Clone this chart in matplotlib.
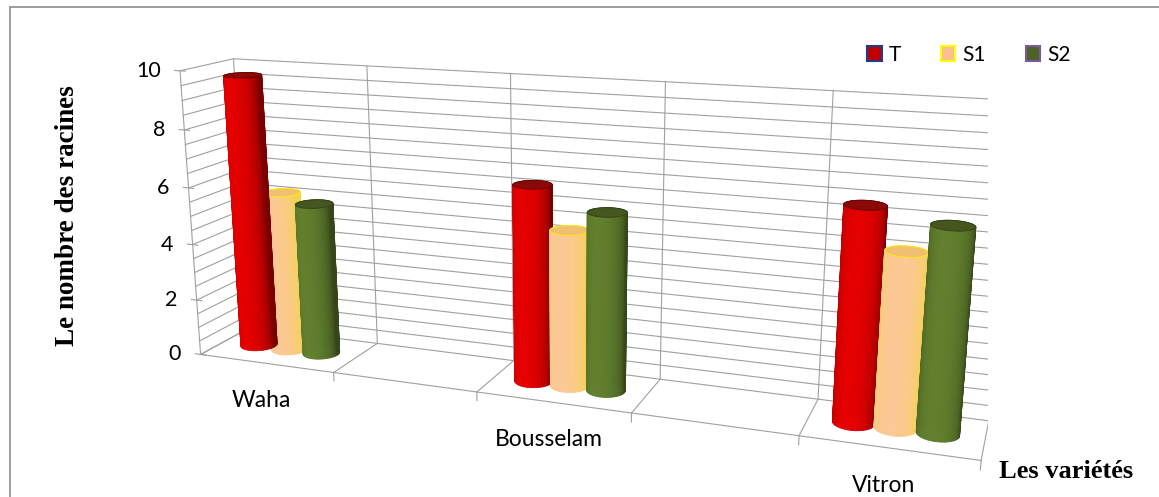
import numpy as np
import matplotlib.pyplot as plt
from matplotlib.patches import Patch, Rectangle
from matplotlib.colors import to_rgb
from mpl_toolkits.mplot3d import proj3d
from mpl_toolkits.mplot3d.art3d import Poly3DCollection

# variétés (les lignes vides du tableau laissent un emplacement libre)
varietes = ['Waha', '', 'Bousselam', '', 'Vitron']
series = ['T', 'S1', 'S2']
T = [9.7, np.nan, 6.7, np.nan, 6.9]
S1 = [5.7, np.nan, 5.3, np.nan, 5.6]
S2 = [5.4, np.nan, 6.0, np.nan, 6.5]
valeurs = [T, S1, S2]

# couleur centre, couleur bord, couleur du dessus, contour
styles = {
    'T': ('#e60000', '#7a0000', '#8a0a0a', '#6a0000'),
    'S1': ('#fcc896', '#f2d640', '#f0c070', '#ffee00'),
    'S2': ('#62802e', '#36461a', '#45561f', '#34421a'),
}
leg_faces = {'T': '#c00000', 'S1': '#fac090', 'S2': '#4f6228'}
leg_edges = {'T': '#1f3c88', 'S1': '#ffff00', 'S2': '#7a5a9a'}

n_cat = len(varietes)
depth = 0.6
zmax = 10
grid_col = '#a0a0a0'


def cylindre(ax, xc, yc, r, h, style, n=48):
    centre, bord, dessus, contour = [np.array(to_rgb(c)) for c in style]
    th = np.linspace(0, 2 * np.pi, n + 1)
    polys, fcs, ecs = [], [], []
    for k in range(n):
        t0, t1 = th[k], th[k + 1]
        tm = 0.5 * (t0 + t1)
        x0, y0 = xc + r * np.cos(t0), yc + r * np.sin(t0)
        x1, y1 = xc + r * np.cos(t1), yc + r * np.sin(t1)
        polys.append([(x0, y0, 0), (x1, y1, 0), (x1, y1, h), (x0, y0, h)])
        # lumière venant de l'avant, un peu à gauche
        f = max(0.0, np.cos(tm - np.deg2rad(-100)))
        c = bord + (centre - bord) * f ** 0.6
        fcs.append(np.clip(c, 0, 1))
        ecs.append(np.clip(c, 0, 1))
    top = [(xc + r * np.cos(t), yc + r * np.sin(t), h) for t in th[:-1]]
    polys.append(top)
    fcs.append(dessus)
    ecs.append(contour)
    col = Poly3DCollection(polys, facecolors=fcs, edgecolors=ecs, linewidths=0.6)
    ax.add_collection3d(col)


W, H = 1159, 497
fig = plt.figure(figsize=(W / 100, H / 100), dpi=100)
side = 860
cx, cy = 558, 246
ax = fig.add_axes([(cx - side / 2) / W, (cy - side / 2) / H, side / W, side / H],
                  projection='3d', proj_type='persp', focal_length=0.3)
ax.set_xlim(0, n_cat)
ax.set_ylim(0, depth)
ax.set_zlim(0, zmax)
ax.set_box_aspect((n_cat, depth, 1.89))
ax.view_init(elev=15, azim=-70)
ax.set_axis_off()

kw = dict(color=grid_col, lw=0.8)
# mur du fond et mur de gauche
for z in np.arange(0, zmax + 0.01, 0.5):
    ax.plot([0, n_cat], [depth, depth], [z, z], **kw)
    ax.plot([0, 0], [0, depth], [z, z], **kw)
for x in range(n_cat + 1):
    ax.plot([x, x], [depth, depth], [0, zmax], **kw)
    # sol
    ax.plot([x, x], [0, depth], [0, 0], **kw)
    if x > 0:
        ax.plot([x, x], [0, 0], [0, -0.3], **kw)
ax.plot([0, n_cat], [0, 0], [0, 0], **kw)
ax.plot([0, 0], [0, 0], [0, zmax], **kw)
for z in range(0, zmax + 1, 2):
    ax.plot([-0.04, 0.04], [0, 0], [z, z], **kw)

r = 0.12
for j, s in enumerate(series):
    for i in range(n_cat):
        v = valeurs[j][i]
        if np.isnan(v):
            continue
        cylindre(ax, i + 0.5 + (j - 1) * 0.24, depth / 2, r, v, styles[s])

# étiquettes posées en 2D à partir de la projection des points du bord avant
M = ax.get_proj()
for z in range(0, zmax + 1, 2):
    px, py, _ = proj3d.proj_transform(0, 0, z, M)
    ax.annotate(str(z), (px, py), xycoords='data', xytext=(-14, 0), textcoords='offset points',
                ha='right', va='center', fontsize=15.5, family='Lato')
for i, nom in enumerate(varietes):
    if nom:
        px, py, _ = proj3d.proj_transform(i + 0.5, 0, 0, M)
        ax.annotate(nom, (px, py), xycoords='data', xytext=(-3, -27), textcoords='offset points',
                    ha='center', va='center', fontsize=16.5, family='Lato')

fig.text(67 / W, 1 - 216 / H, 'Le nombre des racines', rotation=90, ha='center', va='center',
         fontsize=19.5, fontweight='bold', family='Liberation Serif')
fig.text(1133 / W, 1 - 471 / H, 'Les variétés', ha='right', va='center',
         fontsize=19, fontweight='bold', family='Liberation Serif')

handles = [Patch(facecolor=leg_faces[s], edgecolor=leg_edges[s], lw=1.5, label=s) for s in series]
fig.legend(handles=handles, loc='center', bbox_to_anchor=(969 / W, 1 - 55 / H), ncol=3, frameon=False,
           prop={'family': 'Lato', 'size': 15}, handlelength=0.7, handleheight=0.7,
           handletextpad=0.35, columnspacing=1.9)

fig.patches.append(Rectangle((10 / W, -0.1), 1.2, 1.1 - 7 / H, transform=fig.transFigure,
                             fill=False, edgecolor='#8c8c8c', lw=1.2))

fig.savefig('out.png', dpi=100)
